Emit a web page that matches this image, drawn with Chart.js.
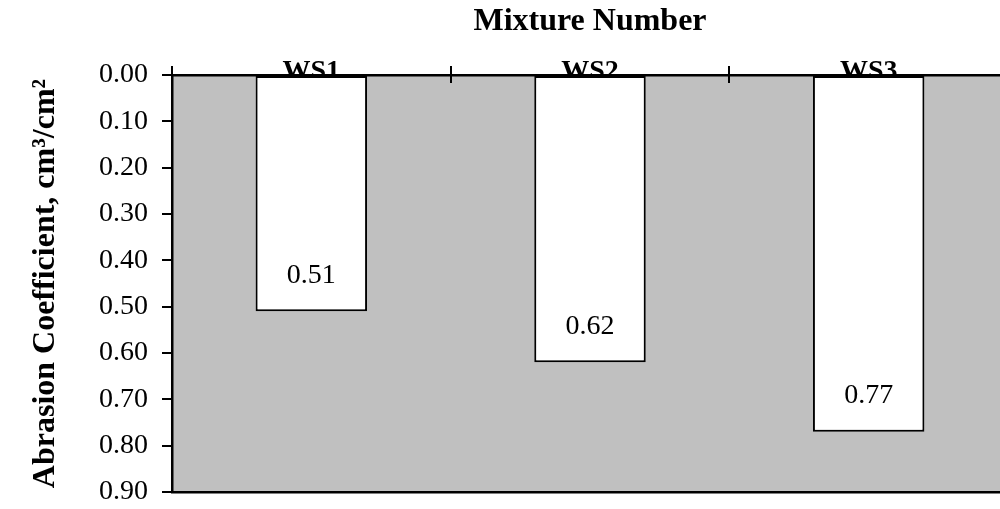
<!DOCTYPE html>
<html>
<head>
<meta charset="utf-8">
<style>
  html, body { margin: 0; padding: 0; background: #ffffff; overflow: hidden; }
  #wrap { width: 1008px; height: 509px; position: relative; }
</style>
<script src="https://cdn.jsdelivr.net/npm/chart.js@4/dist/chart.umd.min.js"></script>
</head>
<body>
<div id="wrap"><canvas id="chart" width="1008" height="509"></canvas></div>
<script>
// Mixtures and their measured abrasion coefficients (cm³/cm²)
const categories = ['WS1', 'WS2', 'WS3'];
const abrasion = [0.51, 0.62, 0.77];
const yTickLabels = ['0.00', '0.10', '0.20', '0.30', '0.40', '0.50', '0.60', '0.70', '0.80', '0.90'];
const xTitle = 'Mixture Number';
const yTitle = 'Abrasion Coefficient, cm³/cm²';

const SERIF = "'Liberation Serif', 'Times New Roman', serif";

// Grey plot area behind the bars
const plotBackground = {
  id: 'plotBackground',
  beforeDraw(chart) {
    const { ctx, chartArea: a } = chart;
    ctx.save();
    ctx.fillStyle = '#c0c0c0';
    ctx.fillRect(a.left, a.top, a.right - a.left, a.bottom - a.top);
    ctx.restore();
  }
};

// Tick marks that cross the top category axis at the category boundaries
const crossTicks = {
  id: 'crossTicks',
  afterDraw(chart) {
    const { ctx } = chart;
    const x = chart.scales.x;
    const yAxis = x.bottom;
    ctx.save();
    ctx.strokeStyle = '#000';
    ctx.lineWidth = 2;
    for (let i = 0; i <= categories.length; i++) {
      const px = Math.round(x.getPixelForValue(i - 0.5));
      ctx.beginPath();
      ctx.moveTo(px, yAxis - 9);
      ctx.lineTo(px, yAxis + 8);
      ctx.stroke();
    }
    ctx.restore();
  }
};

// Value labels inside each bar, just above its lower end
const valueLabels = {
  id: 'valueLabels',
  afterDatasetsDraw(chart) {
    const { ctx } = chart;
    const meta = chart.getDatasetMeta(0);
    ctx.save();
    ctx.fillStyle = '#000';
    ctx.font = '28px ' + SERIF;
    ctx.textAlign = 'center';
    ctx.textBaseline = 'middle';
    meta.data.forEach((bar, i) => {
      ctx.fillText(abrasion[i].toFixed(2), bar.x, bar.y - 36);
    });
    ctx.restore();
  }
};

new Chart(document.getElementById('chart'), {
  type: 'bar',
  data: {
    labels: categories,
    datasets: [{
      data: abrasion,
      backgroundColor: '#ffffff',
      borderColor: '#000000',
      borderWidth: 2,
      borderSkipped: false,
      barPercentage: 0.4,
      categoryPercentage: 1.0,
      xAxisID: 'x',
      yAxisID: 'y'
    }]
  },
  options: {
    responsive: false,
    animation: false,
    devicePixelRatio: 1,
    layout: { padding: 0 },
    plugins: {
      legend: { display: false },
      tooltip: { enabled: false }
    },
    scales: {
      x: {
        type: 'category',
        position: 'top',
        offset: true,
        grid: { display: false, drawTicks: false },
        border: { display: true, color: '#000', width: 2.5, z: 1 },
        ticks: {
          z: 1,
          padding: -14,
          color: '#000',
          maxRotation: 0,
          autoSkip: false,
          font: { family: SERIF, size: 28, weight: 'bold' }
        },
        title: {
          display: true,
          text: xTitle,
          color: '#000',
          padding: { top: 3, bottom: 0 },
          font: { family: SERIF, size: 32, weight: 'bold' }
        },
        afterFit(scale) { scale.height = 75; }
      },
      xBottom: {
        type: 'category',
        position: 'bottom',
        labels: categories,
        offset: true,
        grid: { display: false, drawTicks: false },
        border: { display: true, color: '#000', width: 2.5 },
        ticks: { display: false },
        afterFit(scale) { scale.height = 17; }
      },
      y: {
        type: 'linear',
        position: 'left',
        reverse: true,
        min: 0,
        max: 0.9,
        grid: { drawOnChartArea: false, drawTicks: true, tickLength: 10, color: '#000', lineWidth: 2 },
        border: { display: true, color: '#000', width: 2.5 },
        ticks: {
          stepSize: 0.1,
          padding: 14,
          color: '#000',
          font: { family: SERIF, size: 28 },
          callback: (v) => yTickLabels[Math.round(v * 10)]
        },
        title: {
          display: true,
          text: yTitle,
          color: '#000',
          padding: { top: 27, bottom: 0 },
          font: { family: SERIF, size: 32, weight: 'bold' }
        },
        afterFit(scale) {
          scale.width = 172;
          scale.paddingTop = 0;
          scale.paddingBottom = 0;
        }
      }
    }
  },
  plugins: [plotBackground, crossTicks, valueLabels]
});
</script>
</body>
</html>
